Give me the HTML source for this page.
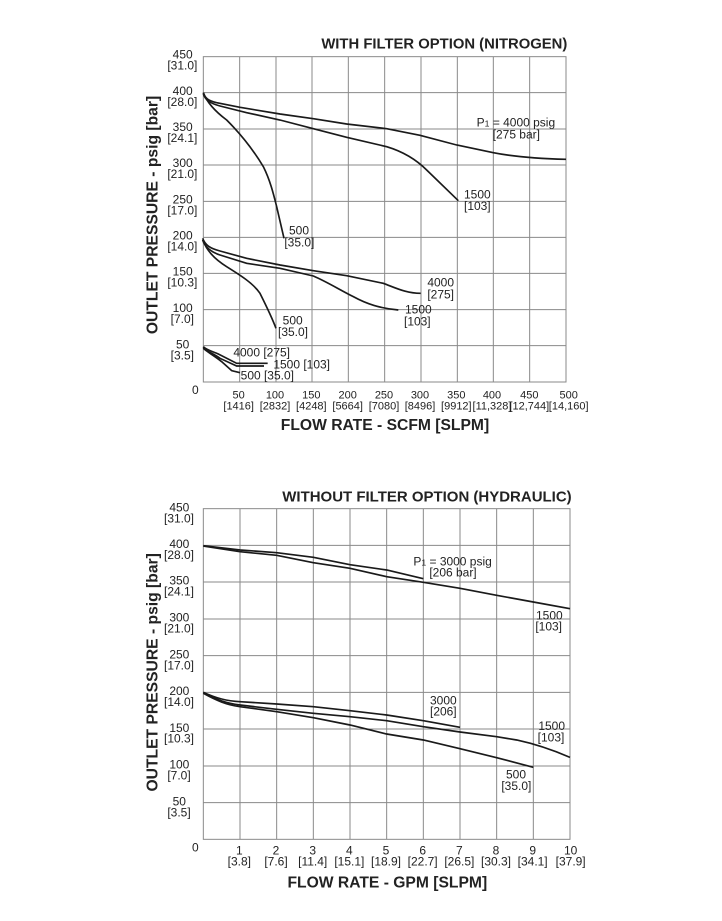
<!DOCTYPE html>
<html><head><meta charset="utf-8"><style>
html,body{margin:0;padding:0;background:#fff;width:722px;height:921px;overflow:hidden}
svg{position:absolute;left:0;top:0}
text{font-family:"Liberation Sans",Arial,sans-serif;fill:#222}
</style></head><body>
<svg width="722" height="921" viewBox="0 0 722 921">
<!-- CHART 1 -->
<g transform="translate(140,30) scale(0.33333)">
  <g stroke="#8a8a8a" stroke-width="3" fill="none">
    <rect x="190" y="80" width="1088" height="976"/>
    <path d="M299,80V1056M408,80V1056M516,80V1056M625,80V1056M734,80V1056M843,80V1056M952,80V1056M1060,80V1056M1169,80V1056"/>
    <path d="M190,188H1278M190,297H1278M190,405H1278M190,514H1278M190,622H1278M190,730H1278M190,839H1278M190,947H1278"/>
  </g>
  <g stroke="#1a1a1a" stroke-width="5" fill="none">
    <path d="M190,188 C195,205 205,212 230,218 L300,232 L420,252 L520,266 L620,282 L740,296 L840,316 L950,345 L1060,368 C1130,382 1200,386 1278,388"/>
    <path d="M190,192 C196,210 210,220 240,228 L320,248 L420,270 L520,296 L620,322 L740,350 C790,365 830,390 860,420 L955,512"/>
    <path d="M190,188 C200,215 220,240 260,270 C300,310 340,360 370,410 C390,450 400,490 410,530 L432,625"/>
    <path d="M188,625 C195,645 210,655 240,663 L320,685 L420,705 L520,722 L620,737 L730,760 C770,775 800,790 842,790"/>
    <path d="M188,630 C195,650 210,665 240,675 L320,700 L420,715 L520,738 C560,755 600,780 640,800 C680,822 720,835 775,840"/>
    <path d="M188,630 C200,660 220,685 260,710 C300,735 340,760 360,790 C380,830 395,860 408,895"/>
    <path d="M190,950 C200,960 220,965 235,972 L290,1000 L383,1000"/>
    <path d="M190,952 C200,965 220,970 240,985 L290,1008 L372,1008"/>
    <path d="M190,955 C200,965 220,975 245,995 L275,1022 L300,1028"/>
  </g>
  <g font-size="36">
    <text x="1282" y="56" text-anchor="end" font-weight="bold" font-size="44.5">WITH FILTER OPTION (NITROGEN)</text>
    <g text-anchor="end">
      <text x="158" y="86">450</text><text x="172" y="119">[31.0]</text>
      <text x="158" y="195">400</text><text x="172" y="228">[28.0]</text>
      <text x="158" y="303">350</text><text x="172" y="336">[24.1]</text>
      <text x="158" y="411">300</text><text x="172" y="444">[21.0]</text>
      <text x="158" y="520">250</text><text x="172" y="553">[17.0]</text>
      <text x="158" y="628">200</text><text x="172" y="661">[14.0]</text>
      <text x="158" y="737">150</text><text x="172" y="770">[10.3]</text>
      <text x="158" y="846">100</text><text x="162" y="879">[7.0]</text>
      <text x="148" y="955">50</text><text x="162" y="988">[3.5]</text>
      <text x="176" y="1092">0</text>
    </g>
    <g text-anchor="middle" font-size="33">
      <text x="296" y="1106">50</text><text x="296" y="1139">[1416]</text>
      <text x="405" y="1106">100</text><text x="405" y="1139">[2832]</text>
      <text x="514" y="1106">150</text><text x="514" y="1139">[4248]</text>
      <text x="623" y="1106">200</text><text x="623" y="1139">[5664]</text>
      <text x="732" y="1106">250</text><text x="732" y="1139">[7080]</text>
      <text x="840" y="1106">300</text><text x="840" y="1139">[8496]</text>
      <text x="949" y="1106">350</text><text x="949" y="1139">[9912]</text>
      <text x="1056" y="1106">400</text><text x="1056" y="1139">[11,328]</text>
      <text x="1168" y="1106">450</text><text x="1168" y="1139">[12,744]</text>
      <text x="1286" y="1106">500</text><text x="1286" y="1139">[14,160]</text>
    </g>
    <text x="735" y="1200" text-anchor="middle" font-weight="bold" font-size="47">FLOW RATE - SCFM [SLPM]</text>
    <text transform="translate(53,555) rotate(-90)" text-anchor="middle" font-weight="bold" font-size="47">OUTLET PRESSURE - psig [bar]</text>
    <text x="1010" y="290">P<tspan font-size="26">1</tspan> = 4000 psig</text>
    <text x="1058" y="325">[275 bar]</text>
    <text x="972" y="505">1500</text><text x="972" y="540">[103]</text>
    <text x="447" y="614">500</text><text x="433" y="650">[35.0]</text>
    <text x="862" y="770">4000</text><text x="862" y="805">[275]</text>
    <text x="795" y="850">1500</text><text x="792" y="886">[103]</text>
    <text x="428" y="883">500</text><text x="414" y="918">[35.0]</text>
    <text x="280" y="980">4000 [275]</text>
    <text x="400" y="1015">1500 [103]</text>
    <text x="302" y="1048">500 [35.0]</text>
  </g>
</g>
<!-- CHART 2 -->
<g transform="translate(140,480) scale(0.33333)">
  <g stroke="#8a8a8a" stroke-width="3" fill="none">
    <rect x="190" y="86" width="1100" height="992"/>
    <path d="M300,86V1078M410,86V1078M520,86V1078M630,86V1078M740,86V1078M850,86V1078M960,86V1078M1070,86V1078M1180,86V1078"/>
    <path d="M190,196H1290M190,306H1290M190,417H1290M190,527H1290M190,637H1290M190,747H1290M190,858H1290M190,968H1290"/>
  </g>
  <g stroke="#1a1a1a" stroke-width="5" fill="none">
    <path d="M190,197 L300,210 L410,218 L520,232 L630,254 L740,270 L850,296"/>
    <path d="M190,198 L300,215 L410,226 L520,248 L630,265 L740,290 L850,307 L960,325 L1070,346 L1180,366 L1290,386"/>
    <path d="M190,637 C230,655 260,663 300,665 L410,672 L520,680 L630,692 L740,705 L850,722 L960,742"/>
    <path d="M190,637 C230,660 260,670 300,675 L410,688 L520,700 L630,710 L740,722 L850,740 L960,756 L1070,770 L1130,780 C1200,795 1250,815 1290,832"/>
    <path d="M190,640 C230,662 260,675 300,680 L410,695 L520,713 L630,735 L740,762 L850,780 L960,806 L1070,833 L1180,862"/>
  </g>
  <g font-size="36">
    <text x="1295" y="64" text-anchor="end" font-weight="bold" font-size="45">WITHOUT FILTER OPTION (HYDRAULIC)</text>
    <g text-anchor="end">
      <text x="148" y="94">450</text><text x="162" y="127">[31.0]</text>
      <text x="148" y="204">400</text><text x="162" y="237">[28.0]</text>
      <text x="148" y="314">350</text><text x="162" y="346">[24.1]</text>
      <text x="148" y="425">300</text><text x="162" y="457">[21.0]</text>
      <text x="148" y="535">250</text><text x="162" y="568">[17.0]</text>
      <text x="148" y="645">200</text><text x="162" y="678">[14.0]</text>
      <text x="148" y="756">150</text><text x="162" y="788">[10.3]</text>
      <text x="148" y="866">100</text><text x="152" y="898">[7.0]</text>
      <text x="138" y="976">50</text><text x="152" y="1009">[3.5]</text>
      <text x="176" y="1115">0</text>
    </g>
    <g text-anchor="middle">
      <text x="298" y="1123">1</text><text x="298" y="1156">[3.8]</text>
      <text x="408" y="1123">2</text><text x="408" y="1156">[7.6]</text>
      <text x="518" y="1123">3</text><text x="518" y="1156">[11.4]</text>
      <text x="628" y="1123">4</text><text x="628" y="1156">[15.1]</text>
      <text x="738" y="1123">5</text><text x="738" y="1156">[18.9]</text>
      <text x="848" y="1123">6</text><text x="848" y="1156">[22.7]</text>
      <text x="958" y="1123">7</text><text x="958" y="1156">[26.5]</text>
      <text x="1068" y="1123">8</text><text x="1068" y="1156">[30.3]</text>
      <text x="1178" y="1123">9</text><text x="1178" y="1156">[34.1]</text>
      <text x="1292" y="1123">10</text><text x="1292" y="1156">[37.9]</text>
    </g>
    <text x="742" y="1222" text-anchor="middle" font-weight="bold" font-size="47">FLOW RATE - GPM [SLPM]</text>
    <text transform="translate(53,577) rotate(-90)" text-anchor="middle" font-weight="bold" font-size="47">OUTLET PRESSURE - psig [bar]</text>
    <text x="820" y="257">P<tspan font-size="26">1</tspan> = 3000 psig</text>
    <text x="868" y="290">[206 bar]</text>
    <text x="1188" y="418">1500</text><text x="1186" y="452">[103]</text>
    <text x="870" y="673">3000</text><text x="870" y="707">[206]</text>
    <text x="1195" y="750">1500</text><text x="1193" y="785">[103]</text>
    <text x="1098" y="895">500</text><text x="1084" y="930">[35.0]</text>
  </g>
</g>
</svg>
</body></html>
